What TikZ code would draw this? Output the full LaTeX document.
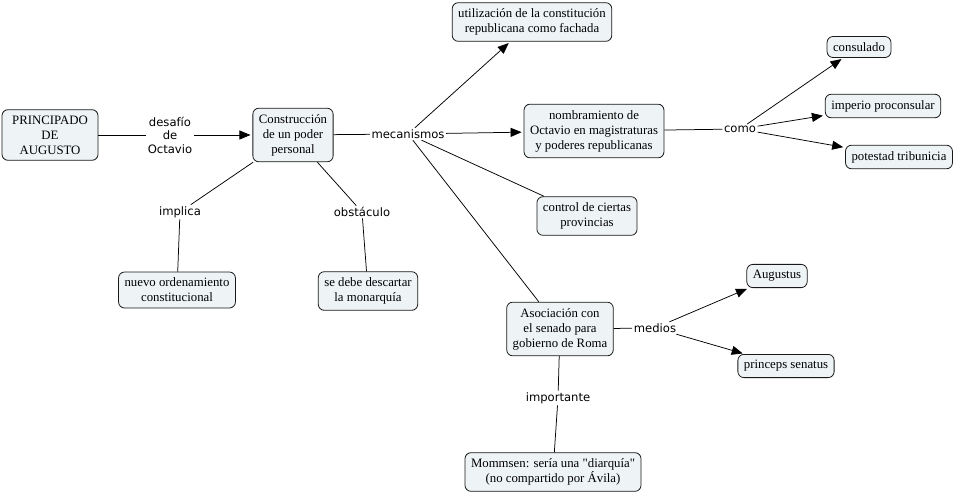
\documentclass[tikz,border=0pt]{standalone}
\usepackage{fontspec}
\setmainfont[Ligatures=TeXOff]{Liberation Serif}
\newfontfamily\linkfont{DejaVu Sans}
\usetikzlibrary{arrows.meta}
\definecolor{conceptfill}{RGB}{238,243,245}

\begin{document}
\begin{tikzpicture}[x=1pt,y=-1pt,
        concept/.style={draw=black!90,line width=0.8pt,fill=conceptfill,rounded corners=6pt,align=center,
            font=\fontsize{12.8}{15}\selectfont,inner xsep=6pt,inner ysep=6pt},
        linkword/.style={font=\linkfont\fontsize{11.6}{13.5}\selectfont,align=center,inner sep=1.5pt},
        link/.style={draw,line width=0.75pt},
        linkarrow/.style={link,-{Triangle[length=11pt,width=9pt]},shorten >=2pt}]
    \useasboundingbox (0,0) rectangle (961,493);
    % conceptos
    \node[concept,minimum width=96pt] (principado) at (50,135) {PRINCIPADO\\DE\\AUGUSTO};
    \node[concept] (construccion) at (293,135) {Construcción\\de un poder\\personal};
    \node[concept] (utilizacion) at (532,22) {utilización de la constitución\\republicana como fachada};
    \node[concept] (nombramiento) at (594,131) {nombramiento de\\Octavio en magistraturas\\y poderes republicanas};
    \node[concept] (consulado) at (859,47) {consulado};
    \node[concept] (imperio) at (883,106) {imperio proconsular};
    \node[concept] (potestad) at (899,157) {potestad tribunicia};
    \node[concept] (control) at (587,216) {control de ciertas\\provincias};
    \node[concept] (asociacion) at (560,329) {Asociación con\\el senado para\\gobierno de Roma};
    \node[concept] (augustus) at (777,276) {Augustus};
    \node[concept] (princeps) at (786,366) {princeps senatus};
    \node[concept] (mommsen) at (553,472) {Mommsen: sería una "diarquía"\\(no compartido por Ávila)};
    \node[concept] (nuevo) at (177,290) {nuevo ordenamiento\\constitucional};
    \node[concept] (descartar) at (368,291) {se debe descartar\\la monarquía};
    % palabras de enlace
    \node[linkword] (desafio) at (170,135) {desafío\\de\\Octavio};
    \node[linkword] (mecanismos) at (408,134) {mecanismos};
    \node[linkword] (como) at (740,129) {como};
    \node[linkword] (medios) at (655,328) {medios};
    \node[linkword] (importante) at (558,398) {importante};
    \node[linkword] (implica) at (180,212) {implica};
    \node[linkword] (obstaculo) at (362,212) {obstáculo};
    % enlaces
    \draw[link] (principado) -- (desafio);
    \draw[linkarrow] (desafio) -- (construccion);
    \draw[link] (construccion) -- (mecanismos);
    \draw[linkarrow] (mecanismos) -- (utilizacion);
    \draw[linkarrow] (mecanismos) -- (nombramiento);
    \draw[link] (mecanismos) -- (control);
    \draw[link] (mecanismos) -- (asociacion);
    \draw[link] (nombramiento) -- (como);
    \draw[linkarrow] (como) -- (consulado);
    \draw[linkarrow] (como) -- (imperio);
    \draw[linkarrow] (como) -- (potestad);
    \draw[link] (asociacion) -- (medios);
    \draw[linkarrow] (medios) -- (augustus);
    \draw[linkarrow] (medios) -- (princeps);
    \draw[link] (asociacion) -- (importante);
    \draw[link] (importante) -- (mommsen);
    \draw[link] (construccion) -- (implica);
    \draw[link] (implica) -- (nuevo);
    \draw[link] (construccion) -- (obstaculo);
    \draw[link] (obstaculo) -- (descartar);
\end{tikzpicture}
\end{document}
